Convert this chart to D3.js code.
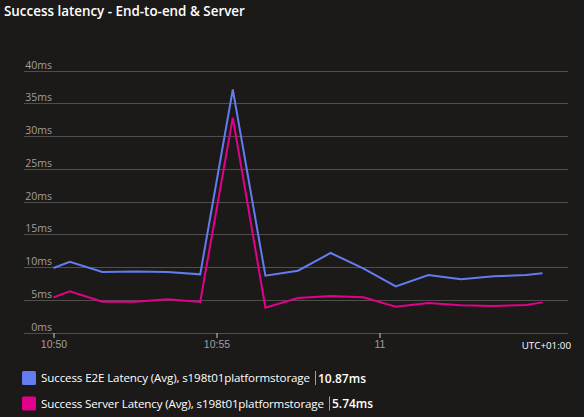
<!DOCTYPE html>
<html>
<head>
<meta charset="utf-8">
<script src="https://cdnjs.cloudflare.com/ajax/libs/d3/7.8.5/d3.min.js"></script>
<style>
  html, body { margin: 0; padding: 0; background: #1b1a19; }
  svg { display: block; font-family: "Open Sans", sans-serif; }
  .grid line { stroke: #504f4e; stroke-width: 1; }
  .y-label { fill: #a19f9d; font-size: 10.5px; }
  .x-label { fill: #a19f9d; font-size: 10.5px; }
  .series { fill: none; stroke-width: 2; stroke-linejoin: miter; }
</style>
</head>
<body>
<div id="chart"></div>
<script>
const times = ['10:50:00','10:50:30','10:51:30','10:52:30','10:53:30','10:54:30','10:55:30','10:56:30',
  '10:57:30','10:58:30','10:59:30','11:00:30','11:01:30','11:02:30','11:03:30','11:04:30','11:05:00'];
const e2eValues = [9.85,10.8,9.24,9.3,9.24,8.88,37.1,8.67,9.44,12.14,9.8,7.05,8.78,8.12,8.58,8.78,9.03];
const serverValues = [5.37,6.28,4.7,4.7,5.07,4.66,32.8,3.79,5.27,5.57,5.37,3.94,4.5,4.15,4.05,4.2,4.6];
const yTicks = [0,5,10,15,20,25,30,35,40];
const xTicks = ['10:50:00','10:55:00','11:00:00'];
const xTickLabels = ['10:50','10:55','11'];
const legendNames = ['Success E2E Latency (Avg), s198t01platformstorage','Success Server Latency (Avg), s198t01platformstorage'];
const legendValues = ['10.87ms','5.74ms'];
const colors = ['#637cef','#e3008c'];

const width = 584, height = 417;
const parse = d3.timeParse('%H:%M:%S');

const svg = d3.select('#chart').append('svg')
    .attr('width', width)
    .attr('height', height);

svg.append('text')
    .attr('x', 4)
    .attr('y', 16)
    .attr('fill', '#ffffff')
    .attr('font-size', 13.4)
    .attr('font-weight', 600)
    .text('Success latency - End-to-end & Server');

const xScale = d3.scaleTime()
    .domain([parse('10:50:00'), parse('11:00:00')])
    .range([53.5, 379.5]);

const yScale = d3.scaleLinear()
    .domain([0, 40])
    .range([332.5, 70.5]);

// gridlines + labels
const grid = svg.append('g').attr('class', 'grid');
grid.selectAll('line')
    .data(yTicks)
    .join('line')
    .attr('x1', 24)
    .attr('x2', 568)
    .attr('y1', d => Math.round(yScale(d)) + 0.5)
    .attr('y2', d => Math.round(yScale(d)) + 0.5);

svg.selectAll('.y-label')
    .data(yTicks)
    .join('text')
    .attr('class', 'y-label')
    .attr('x', 52)
    .attr('y', d => yScale(d) - 2)
    .attr('text-anchor', 'end')
    .text(d => d + 'ms');

// x axis ticks
const xAxis = d3.axisBottom(xScale)
    .tickValues(xTicks.map(parse))
    .tickSize(5)
    .tickPadding(3)
    .tickFormat((d, i) => xTickLabels[i]);

const xg = svg.append('g')
    .attr('transform', 'translate(0,' + 333 + ')')
    .call(xAxis);
xg.select('.domain').remove();
xg.selectAll('line').attr('stroke', '#d2d0ce');
xg.selectAll('text').attr('class', 'x-label').attr('fill', null).attr('font-family', null).attr('font-size', null);

svg.append('text')
    .attr('x', 571)
    .attr('y', 349)
    .attr('text-anchor', 'end')
    .attr('fill', '#ffffff')
    .attr('font-size', 9.8)
    .text('UTC+01:00');

const line = d3.line()
    .x((d, i) => xScale(parse(times[i])))
    .y(d => yScale(d));

[e2eValues, serverValues].forEach((vals, i) => {
    svg.append('path')
        .datum(vals)
        .attr('class', 'series')
        .attr('stroke', colors[i])
        .attr('d', line);
});

// legend
const legendY = [378, 403.5];
const legendW = [269, 283];
legendNames.forEach((name, i) => {
    const g = svg.append('g').attr('transform', 'translate(22,' + legendY[i] + ')');
    g.append('rect')
        .attr('x', 0)
        .attr('y', -7)
        .attr('width', 14)
        .attr('height', 14)
        .attr('rx', 1.5)
        .attr('fill', colors[i]);
    g.append('text')
        .attr('x', 19)
        .attr('y', 4)
        .attr('fill', '#ffffff')
        .attr('font-size', 11.6)
        .attr('textLength', legendW[i])
        .text(name);
    g.append('line')
        .attr('x1', 19 + legendW[i] + 5.5)
        .attr('x2', 19 + legendW[i] + 5.5)
        .attr('y1', -7)
        .attr('y2', 7)
        .attr('stroke', '#a19f9d');
    g.append('text')
        .attr('x', 19 + legendW[i] + 8)
        .attr('y', 4.5)
        .attr('fill', '#ffffff')
        .attr('font-size', 12)
        .attr('font-weight', 600)
        .text(legendValues[i]);
});
</script>
</body>
</html>
